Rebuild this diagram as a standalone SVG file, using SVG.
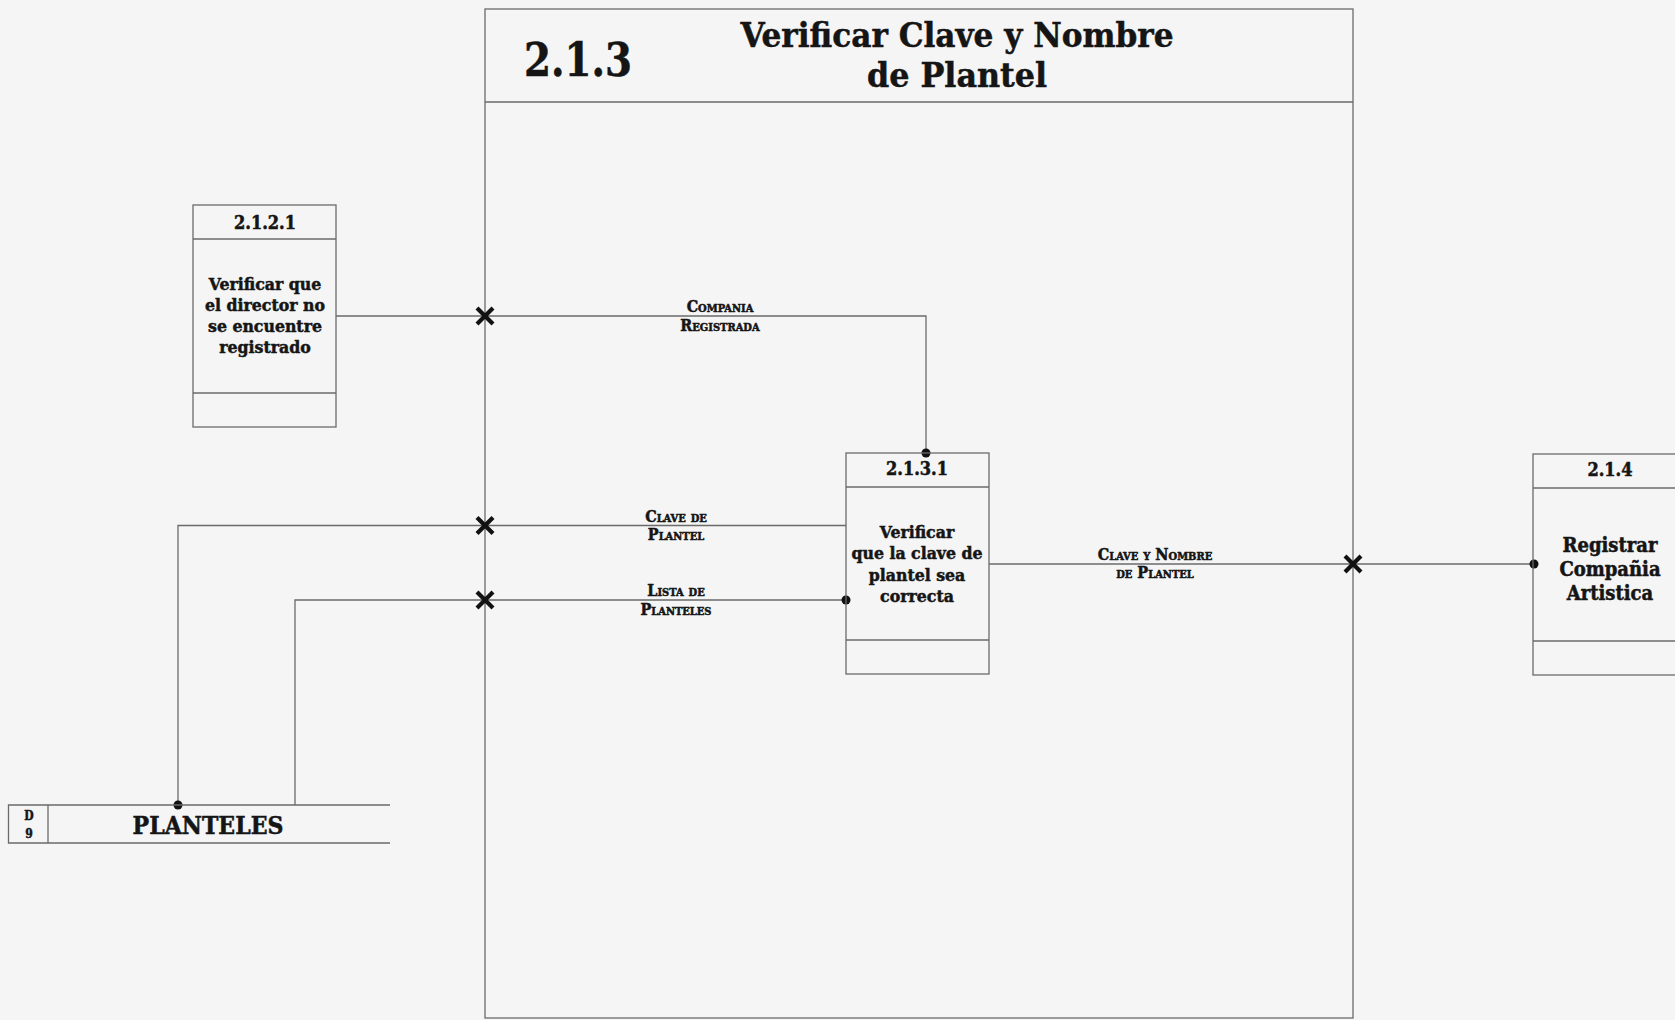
<svg xmlns="http://www.w3.org/2000/svg" width="1675" height="1020" viewBox="0 0 1675 1020">
<defs>
<style>
.bg{fill:#f5f5f5}
.ln{fill:none;stroke:#6a6a6a;stroke-width:1.3}
.box{fill:none;stroke:#6a6a6a;stroke-width:1.3}
.t{font-family:"DejaVu Serif Condensed","DejaVu Serif","Liberation Serif",serif;font-weight:bold;fill:#151515;text-anchor:middle}
.hv{stroke:#151515;stroke-width:0.5}
.id{font-size:18px}
.body{font-size:17.5px}
.lab{font-size:16px;font-variant:small-caps}
.xm{stroke:#111;stroke-width:4.2;stroke-linecap:butt}
.dot{fill:#111}
</style>
<g id="xmark"><path class="xm" d="M-8,-8L8,8M8,-8L-8,8"/></g>
</defs>
<rect class="bg" x="0" y="0" width="1675" height="1020"/>

<g id="frame-2.1.3">
<rect class="box" x="485" y="9" width="868" height="1009"/>
<line class="ln" x1="485" y1="102" x2="1353" y2="102" stroke-width="2"/>
<text class="t hv" x="578" y="76" font-size="46" textLength="108" lengthAdjust="spacingAndGlyphs">2.1.3</text>
<text class="t hv" x="957" y="47" font-size="34" textLength="433" lengthAdjust="spacingAndGlyphs">Verificar Clave y Nombre</text>
<text class="t hv" x="957" y="87" font-size="34" textLength="180" lengthAdjust="spacingAndGlyphs">de Plantel</text>
</g>

<g id="connectors">
<polyline class="ln" points="336,316 926,316 926,453"/>
<polyline class="ln" points="178,805 178,525.5 846,525.5"/>
<polyline class="ln" points="295,805 295,600 846,600"/>
<line class="ln" x1="989" y1="564" x2="1534" y2="564"/>
<circle class="dot" cx="926" cy="453" r="4.5"/>
<circle class="dot" cx="846" cy="600" r="4.5"/>
<circle class="dot" cx="1534" cy="564" r="4.5"/>
<circle class="dot" cx="178" cy="805" r="4.5"/>
<use href="#xmark" x="485" y="316"/>
<use href="#xmark" x="485" y="525.5"/>
<use href="#xmark" x="485" y="600"/>
<use href="#xmark" x="1353" y="564"/>
<text class="t lab hv" x="720" y="312">Compania</text>
<text class="t lab hv" x="720" y="331">Registrada</text>
<text class="t lab hv" x="676" y="522">Clave de</text>
<text class="t lab hv" x="676" y="540">Plantel</text>
<text class="t lab hv" x="676" y="596">Lista de</text>
<text class="t lab hv" x="676" y="615">Planteles</text>
<text class="t lab hv" x="1155" y="560">Clave y Nombre</text>
<text class="t lab hv" x="1155" y="578">de Plantel</text>
</g>

<g id="node-2.1.2.1">
<rect class="box" x="193" y="205" width="143" height="222"/>
<line class="ln" x1="193" y1="239" x2="336" y2="239"/>
<line class="ln" x1="193" y1="393" x2="336" y2="393"/>
<text class="t id hv" x="265" y="229">2.1.2.1</text>
<text class="t body hv" x="265" y="290">Verificar que</text>
<text class="t body hv" x="265" y="311">el director no</text>
<text class="t body hv" x="265" y="332">se encuentre</text>
<text class="t body hv" x="265" y="353">registrado</text>
</g>

<g id="node-2.1.3.1">
<rect class="box" x="846" y="453" width="143" height="221"/>
<line class="ln" x1="846" y1="487" x2="989" y2="487"/>
<line class="ln" x1="846" y1="640" x2="989" y2="640"/>
<text class="t id hv" x="917" y="475">2.1.3.1</text>
<text class="t body hv" x="917" y="538">Verificar</text>
<text class="t body hv" x="917" y="559">que la clave de</text>
<text class="t body hv" x="917" y="581">plantel sea</text>
<text class="t body hv" x="917" y="602">correcta</text>
</g>

<g id="node-2.1.4">
<rect class="box" x="1533" y="454" width="160" height="221"/>
<line class="ln" x1="1533" y1="488" x2="1693" y2="488"/>
<line class="ln" x1="1533" y1="641" x2="1693" y2="641"/>
<text class="t id hv" x="1610" y="476">2.1.4</text>
<text class="t hv" font-size="20" x="1610" y="552">Registrar</text>
<text class="t hv" font-size="20" x="1610" y="576">Compañia</text>
<text class="t hv" font-size="20" x="1610" y="600">Artistica</text>
</g>

<g id="store-D9">
<polyline class="ln" points="390,805 8.5,805 8.5,843 390,843"/>
<line class="ln" x1="48" y1="805" x2="48" y2="843"/>
<text class="t hv" font-size="12" x="29" y="820">D</text>
<text class="t hv" font-size="12" x="29" y="838">9</text>
<text class="t hv" font-size="24.5" x="208" y="834">PLANTELES</text>
</g>
</svg>
